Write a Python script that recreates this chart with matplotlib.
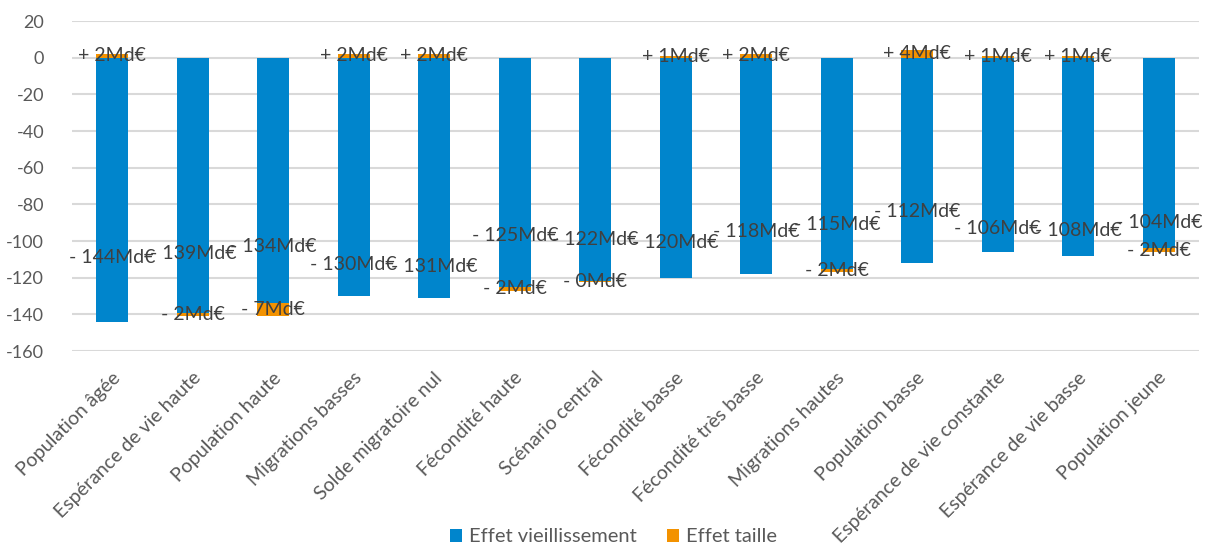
import matplotlib
matplotlib.use("Agg")
import matplotlib.pyplot as plt
import numpy as np

plt.rcParams['font.family'] = ['Lato', 'DejaVu Sans']

scenarios = [
    "Population âgée", "Espérance de vie haute", "Population haute",
    "Migrations basses", "Solde migratoire nul", "Fécondité haute",
    "Scénario central", "Fécondité basse", "Fécondité très basse",
    "Migrations hautes", "Population basse", "Espérance de vie constante",
    "Espérance de vie basse", "Population jeune",
]
effet_vieillissement = [-144, -139, -134, -130, -131, -125, -122, -120, -118,
                        -115, -112, -106, -108, -104]
effet_taille = [2, -2, -7, 2, 2, -2, -0.3, 1, 2, -2, 4, 1, 1, -2]
yticks = [20, 0, -20, -40, -60, -80, -100, -120, -140, -160]

# vertical anchors of the ageing-effect labels (moved by hand in the source chart)
vieil_label_y = [-109, -107, -103, -113, -114, -97, -99, -101, -95, -91,
                 -84, -93, -94, -90]

BLUE = "#0085CC"
ORANGE = "#F39200"
GRID = "#D9D9D9"
TICK_TXT = "#595959"
LBL_TXT = "#404040"

fig = plt.figure(figsize=(12.07, 5.46), dpi=100)
ax = fig.add_axes([72 / 1207, 1 - 351 / 546, (1199 - 72) / 1207, 330 / 546])

x = np.arange(len(scenarios))
vie = np.array(effet_vieillissement, dtype=float)
tai = np.array(effet_taille, dtype=float)
taille_bottom = np.where(tai < 0, vie, 0.0)

w = 0.4
ax.bar(x, vie, width=w, color=BLUE, label="Effet vieillissement", zorder=3)
ax.bar(x, tai, width=w, bottom=taille_bottom, color=ORANGE,
       label="Effet taille", zorder=3)


def fmt(v):
    sign = "+" if v > 0 else "-"
    return f"{sign} {abs(v):.0f}Md€"


for xi, v, ly in zip(x, vie, vieil_label_y):
    ax.text(xi, ly, fmt(v), ha="center", va="center", fontsize=14,
            color=LBL_TXT, zorder=4)
for xi, v, b in zip(x, tai, taille_bottom):
    ax.text(xi, b + v / 2, fmt(v), ha="center", va="center", fontsize=14,
            color=LBL_TXT, zorder=4)

ax.set_xlim(-0.5, len(scenarios) - 0.5)
ax.set_ylim(-160, 20)
ax.set_yticks(yticks)
ax.set_yticklabels([str(t) for t in yticks])
ax.yaxis.grid(True, color=GRID, linewidth=1.5, zorder=0)
ax.set_axisbelow(True)
for s in ax.spines.values():
    s.set_visible(False)
ax.tick_params(axis="y", length=0, pad=20, labelsize=13, labelcolor=TICK_TXT)
ax.set_xticks(x)
ax.tick_params(axis="x", length=0, labelbottom=False)

# category labels, rotated 45 degrees below the plot
xform = ax.get_xaxis_transform()
for xi, name in zip(x, scenarios):
    ax.annotate(name, xy=(xi, 0), xycoords=xform, xytext=(5, -24),
                textcoords="offset pixels", rotation=45, rotation_mode="anchor",
                ha="right", va="center", fontsize=14, color=TICK_TXT,
                annotation_clip=False)

handles, labels = ax.get_legend_handles_labels()
fig.legend(handles, labels, loc="center", bbox_to_anchor=(0.508, 0.017),
           ncol=2, frameon=False, fontsize=14.5, handlelength=0.6,
           handleheight=0.6, handletextpad=0.35, columnspacing=1.5,
           labelcolor=TICK_TXT)

fig.savefig("out.png", dpi=100)
